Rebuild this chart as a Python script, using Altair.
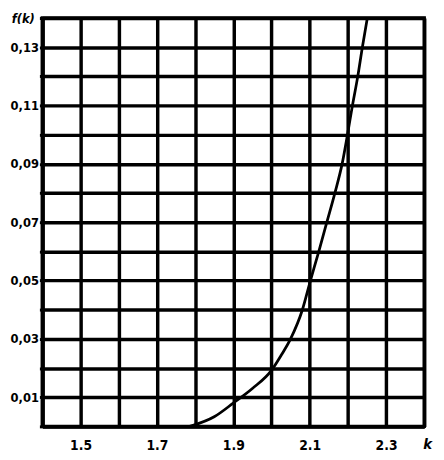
import altair as alt
import pandas as pd

# curve f(k)
k_vals = [1.786, 1.85, 1.90, 1.95, 2.00, 2.025, 2.050, 2.081, 2.102, 2.124,
          2.145, 2.166, 2.185, 2.199, 2.212, 2.226, 2.238, 2.251]
f_vals = [0.0, 0.0033, 0.0080, 0.0130, 0.0192, 0.0243, 0.030, 0.040, 0.050, 0.060,
          0.070, 0.080, 0.090, 0.100, 0.110, 0.120, 0.130, 0.140]

x_grid = [1.4, 1.5, 1.6, 1.7, 1.8, 1.9, 2.0, 2.1, 2.2, 2.3, 2.4]
y_grid = [0.0, 0.01, 0.02, 0.03, 0.04, 0.05, 0.06, 0.07, 0.08, 0.09, 0.10,
          0.11, 0.12, 0.13, 0.14]

df = pd.DataFrame({"k": k_vals, "f": f_vals})

FONT = "DejaVu Sans Condensed"

x_enc = alt.X(
    "k:Q",
    scale=alt.Scale(domain=[1.4, 2.4], nice=False, zero=False),
    axis=alt.Axis(
        values=x_grid,
        labelExpr="round(datum.value*10) % 2 == 1 ? format(datum.value, '.1f') : ''",
        grid=True, gridColor="black", gridWidth=3.5, gridOpacity=1,
        domainColor="black", domainWidth=4,
        ticks=False, labelPadding=13,
        labelFont=FONT, labelFontWeight="bold", labelFontSize=14, labelColor="black",
        title="k", titleFont=FONT, titleFontStyle="italic", titleFontWeight="bold",
        titleFontSize=15, titleColor="black", titleX=392, titleY=18,
        titleAnchor="start", titleAlign="center", titleBaseline="middle",
    ),
)
y_enc = alt.Y(
    "f:Q",
    scale=alt.Scale(domain=[0, 0.14], nice=False),
    axis=alt.Axis(
        values=y_grid,
        labelExpr="round(datum.value*100) % 2 == 1 ? replace(format(datum.value, '.2f'), '.', ',') : ''",
        grid=True, gridColor="black", gridWidth=3.5, gridOpacity=1,
        domainColor="black", domainWidth=4,
        tickSize=3, tickWidth=3, tickColor="black", labelPadding=1,
        labelFont=FONT, labelFontWeight="bold", labelFontSize=13, labelColor="black",
        title="f(k)", titleFont=FONT, titleFontStyle="italic", titleFontWeight="bold",
        titleFontSize=13, titleColor="black", titleAngle=0, titleX=-20, titleY=-5,
        titleAlign="center", titleBaseline="top",
    ),
)

chart = (
    alt.Chart(df)
    .mark_line(color="black", strokeWidth=2.8, interpolate="monotone", clip=True)
    .encode(x=x_enc, y=y_enc)
    .properties(
        width=389,
        height=416,
        autosize=alt.AutoSizeParams(type="none"),
        padding={"left": 35, "top": 6, "right": 12, "bottom": 30},
        background="white",
    )
    .configure_view(stroke="black", strokeWidth=3.5)
)

chart.save("out.html", embed_options={"renderer": "svg", "actions": False})
